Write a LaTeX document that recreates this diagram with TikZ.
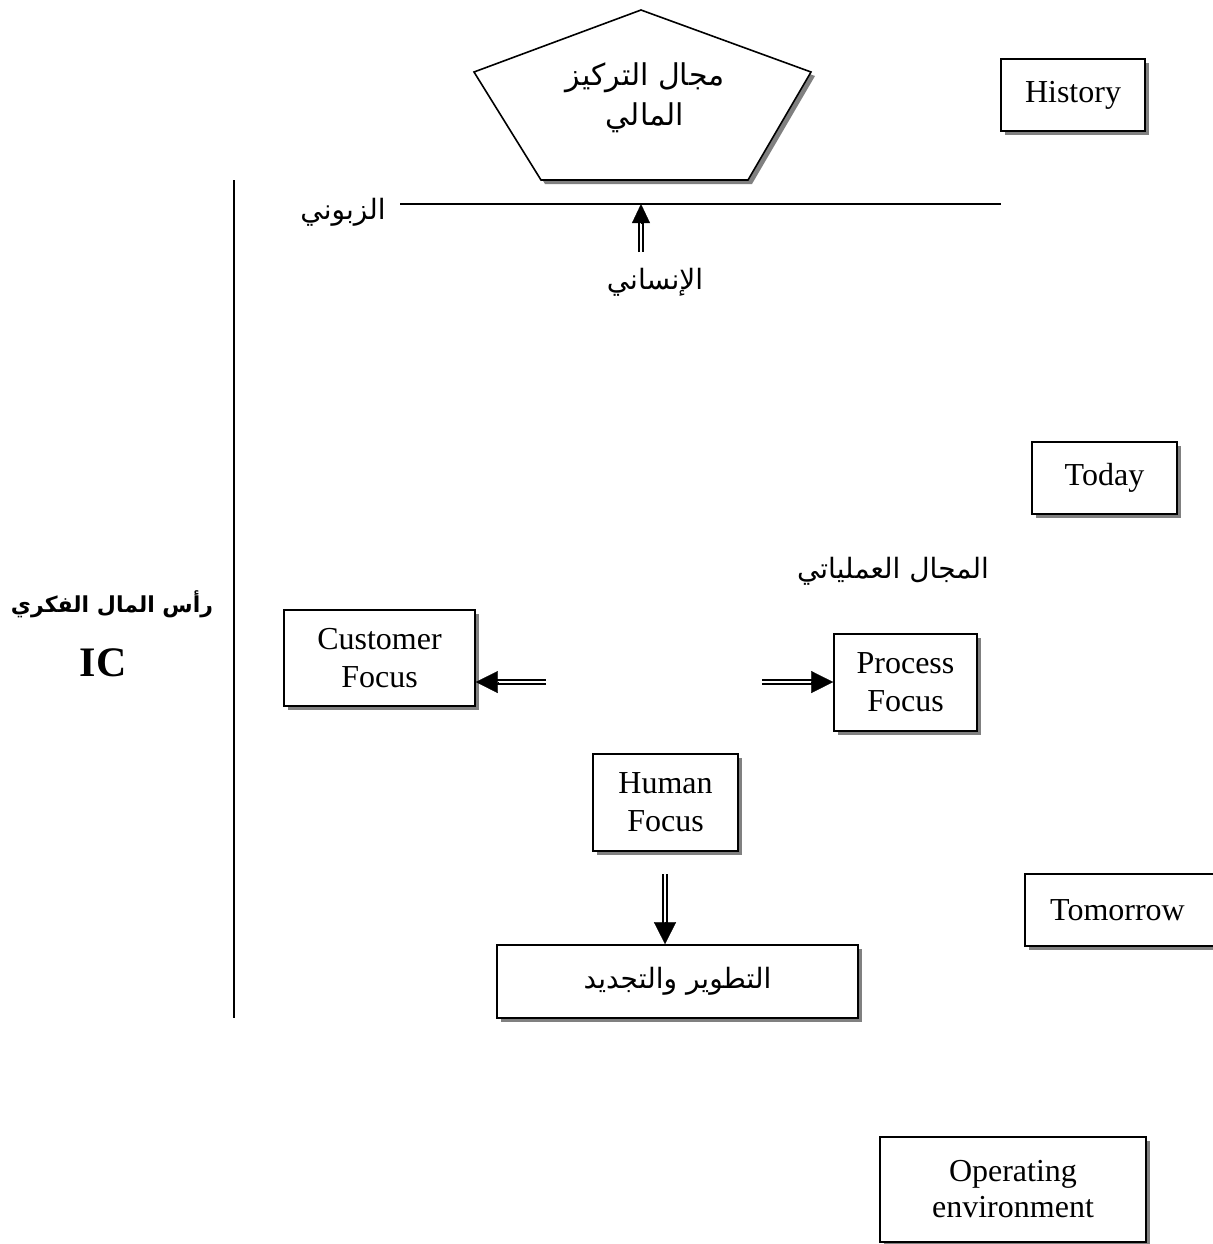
\documentclass[tikz,border=0pt]{standalone}
\usepackage{fontspec}
\setmainfont{Liberation Serif}
\newfontfamily\arabicfont[Script=Arabic]{DejaVu Sans}
\TeXXeTstate=1
\usetikzlibrary{shadows,calc,arrows.meta}

\begin{document}
\begin{tikzpicture}[x=0.5pt,y=-0.5pt,
  box/.style={draw=black, line width=0.8pt, fill=white, inner sep=0pt,
    align=center, font=\fontsize{16}{19}\selectfont,
    drop shadow={shadow xshift=2pt, shadow yshift=-2pt, fill=black!50, opacity=1}},
  artext/.style={font=\arabicfont\fontsize{14}{20}\selectfont, inner sep=0pt, align=center},
  shaft/.style={draw=black, line width=0.9pt, double=white, double distance=1.4pt},
  tip/.style={-{Triangle[length=11pt,width=11pt]}, line width=0.1pt},
  rule/.style={line width=0.6pt}]

\useasboundingbox (0,0) rectangle (1213,1244);

% financial focus pentagon with its shadow
\fill[black!50] (645,14) -- (815,76) -- (752,184) -- (545,184) -- (478,76) -- cycle;
\draw[line width=0.8pt, fill=white] (641,10) -- (811,72) -- (748,180) -- (541,180) -- (474,72) -- cycle;
\node[artext, font=\arabicfont\fontsize{15}{20}\selectfont] (fin) at (645,98)
  {\beginR مجال التركيز\endR\\\beginR المالي\endR};

% customer line and intellectual capital axis
\coordinate (lineL) at (400,204);
\coordinate (lineR) at (1001,204);
\coordinate (lineM) at (641,204);
\draw[rule] (lineL) -- (lineR);
\coordinate (axisT) at (234,180);
\coordinate (axisB) at (234,1018);
\draw[rule] (axisT) -- (axisB);

\node[artext] (cust) at (343,212) {\beginR الزبوني\endR};
\node[artext] (human) at (655,282) {\beginR الإنساني\endR};
\node[artext] (proc) at (893,571) {\beginR المجال العملياتي\endR};

\node[font=\arabicfont\bfseries\fontsize{11}{16}\selectfont, inner sep=0pt] (ic) at (112,604)
  {\beginR رأس المال الفكري\endR};
\node[font=\bfseries\fontsize{21}{24}\selectfont, inner sep=0pt] (icl) at (103,663) {IC};

% time boxes
\node[box, minimum width=72pt, minimum height=36pt] (hist) at (1073,95) {History};
\node[box, minimum width=72.5pt, minimum height=36pt] (today) at (1104.5,478) {Today};
\node[box, minimum width=95.5pt, minimum height=36pt] (tomor) at (1120.5,910) {Tomorrow\hspace*{3pt}};
\node[box, minimum width=133pt, minimum height=52.5pt, font=\fontsize{16}{18}\selectfont] (oper) at (1013,1189.5)
  {Operating\\environment};

% focus boxes
\node[box, minimum width=95.5pt, minimum height=48pt] (cf) at (379.5,658) {Customer\\Focus};
\node[box, minimum width=71.5pt, minimum height=48.5pt] (pf) at (905.5,682.5) {Process\\Focus};
\node[box, minimum width=72.5pt, minimum height=48.5pt] (hf) at (665.5,802.5) {Human\\Focus};
\node[box, minimum width=180.5pt, minimum height=36.5pt] (dev) at (677.5,981.5)
  {\arabicfont\fontsize{14}{20}\selectfont\beginR التطوير والتجديد\endR};

% double-shafted arrows
\coordinate (upS) at (641,252);
\draw[shaft, shorten >=8pt] (upS) -- (lineM);
\draw[tip, -{Triangle[length=9.5pt,width=9pt]}] ($(lineM)!9.5pt!(upS)$) -- (lineM);

\coordinate (leftS) at (546,682);
\coordinate (leftE) at (cf.east |- leftS);
\draw[shaft, shorten >=10pt] (leftS) -- (leftE);
\draw[tip] ($(leftE)!11pt!(leftS)$) -- (leftE);

\coordinate (rightS) at (762,682);
\coordinate (rightE) at (pf.west |- rightS);
\draw[shaft, shorten >=10pt] (rightS) -- (rightE);
\draw[tip] ($(rightE)!11pt!(rightS)$) -- (rightE);

\coordinate (downS) at (665,874);
\coordinate (downE) at (downS |- dev.north);
\draw[shaft, shorten >=10pt] (downS) -- (downE);
\draw[tip] ($(downE)!11pt!(downS)$) -- (downE);

\end{tikzpicture}
\end{document}
